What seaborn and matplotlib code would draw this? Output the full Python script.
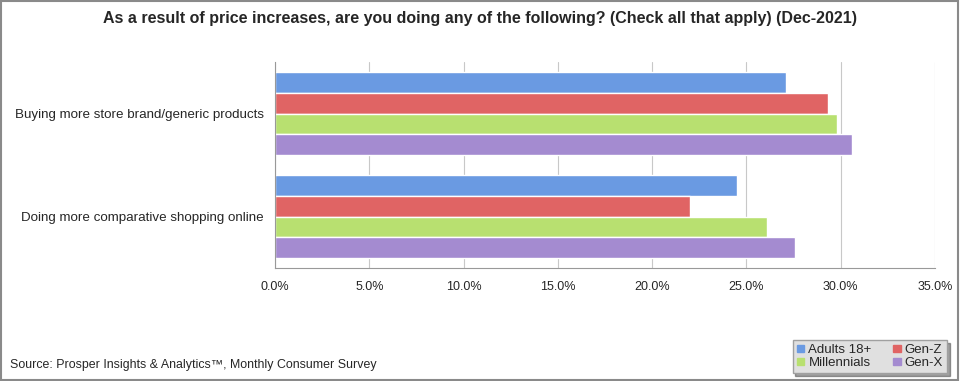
import seaborn as sns
import matplotlib.pyplot as plt
import pandas as pd
from matplotlib.patches import Rectangle

sns.set_theme(style="white")
plt.rcParams["font.family"] = ["Liberation Sans", "DejaVu Sans"]

categories = ["Buying more store brand/generic products", "Doing more comparative shopping online"]
groups = ["Adults 18+", "Gen-Z", "Millennials", "Gen-X"]
adults = [27.1, 24.5]
gen_z = [29.3, 22.0]
millennials = [29.8, 26.1]
gen_x = [30.6, 27.6]
ticks = [0, 5, 10, 15, 20, 25, 30, 35]

rows = []
for g, vals in zip(groups, [adults, gen_z, millennials, gen_x]):
    for c, v in zip(categories, vals):
        rows.append({"category": c, "group": g, "value": v})
df = pd.DataFrame(rows)

palette = {"Adults 18+": "#6A9AE2", "Gen-Z": "#E06464", "Millennials": "#B8E070", "Gen-X": "#A48BD0"}

fig = plt.figure(figsize=(9.6, 3.81), dpi=100)
ax = fig.add_axes([275 / 960, 1 - 268 / 381, 660 / 960, 206 / 381])

sns.barplot(data=df, x="value", y="category", hue="group", hue_order=groups,
            palette=palette, orient="h", width=0.8, saturation=1, ax=ax, legend=False)

ax.set_xlim(0, 35)
ax.set_xticks(ticks)
ax.set_xticklabels([f"{t:.1f}%" for t in ticks], fontsize=9)
ax.tick_params(axis="y", labelsize=9.6, length=0, pad=8)
ax.tick_params(axis="x", length=0, pad=9)
ax.set_xlabel("")
ax.set_ylabel("")
ax.xaxis.grid(True, color="#c8c8c8", linewidth=0.8)
ax.set_axisbelow(True)
for s in ["top", "right"]:
    ax.spines[s].set_visible(False)
for s in ["left", "bottom"]:
    ax.spines[s].set_color("#999999")
    ax.spines[s].set_linewidth(0.8)

fig.text(0.5, 1 - 18 / 381, "As a result of price increases, are you doing any of the following? (Check all that apply) (Dec-2021)",
         ha="center", va="center", fontsize=11.5, fontweight="bold")
fig.text(10 / 960, 1 - 365 / 381, "Source: Prosper Insights & Analytics\u2122, Monthly Consumer Survey",
         ha="left", va="center", fontsize=8.9)

handles = [Rectangle((0, 0), 1, 1, color=palette[g]) for g in groups]
order = [0, 2, 1, 3]
leg = fig.legend([handles[i] for i in order], [groups[i] for i in order], ncol=2,
                 loc="lower right", bbox_to_anchor=(947 / 960, 8 / 381), fontsize=9.5,
                 frameon=True, fancybox=False, shadow=True, handlelength=0.6, handleheight=0.5,
                 handletextpad=0.3, columnspacing=1.6, borderpad=0.3, borderaxespad=0.0,
                 labelspacing=0.05)
leg.get_frame().set_facecolor("#e0e0e0")
leg.get_frame().set_edgecolor("#a0a0a0")

fig.patches.append(Rectangle((0.001, 0.002), 0.997, 0.995, transform=fig.transFigure,
                             fill=False, edgecolor="#8a8a8a", linewidth=1.5))

fig.savefig("out.png", dpi=100)
